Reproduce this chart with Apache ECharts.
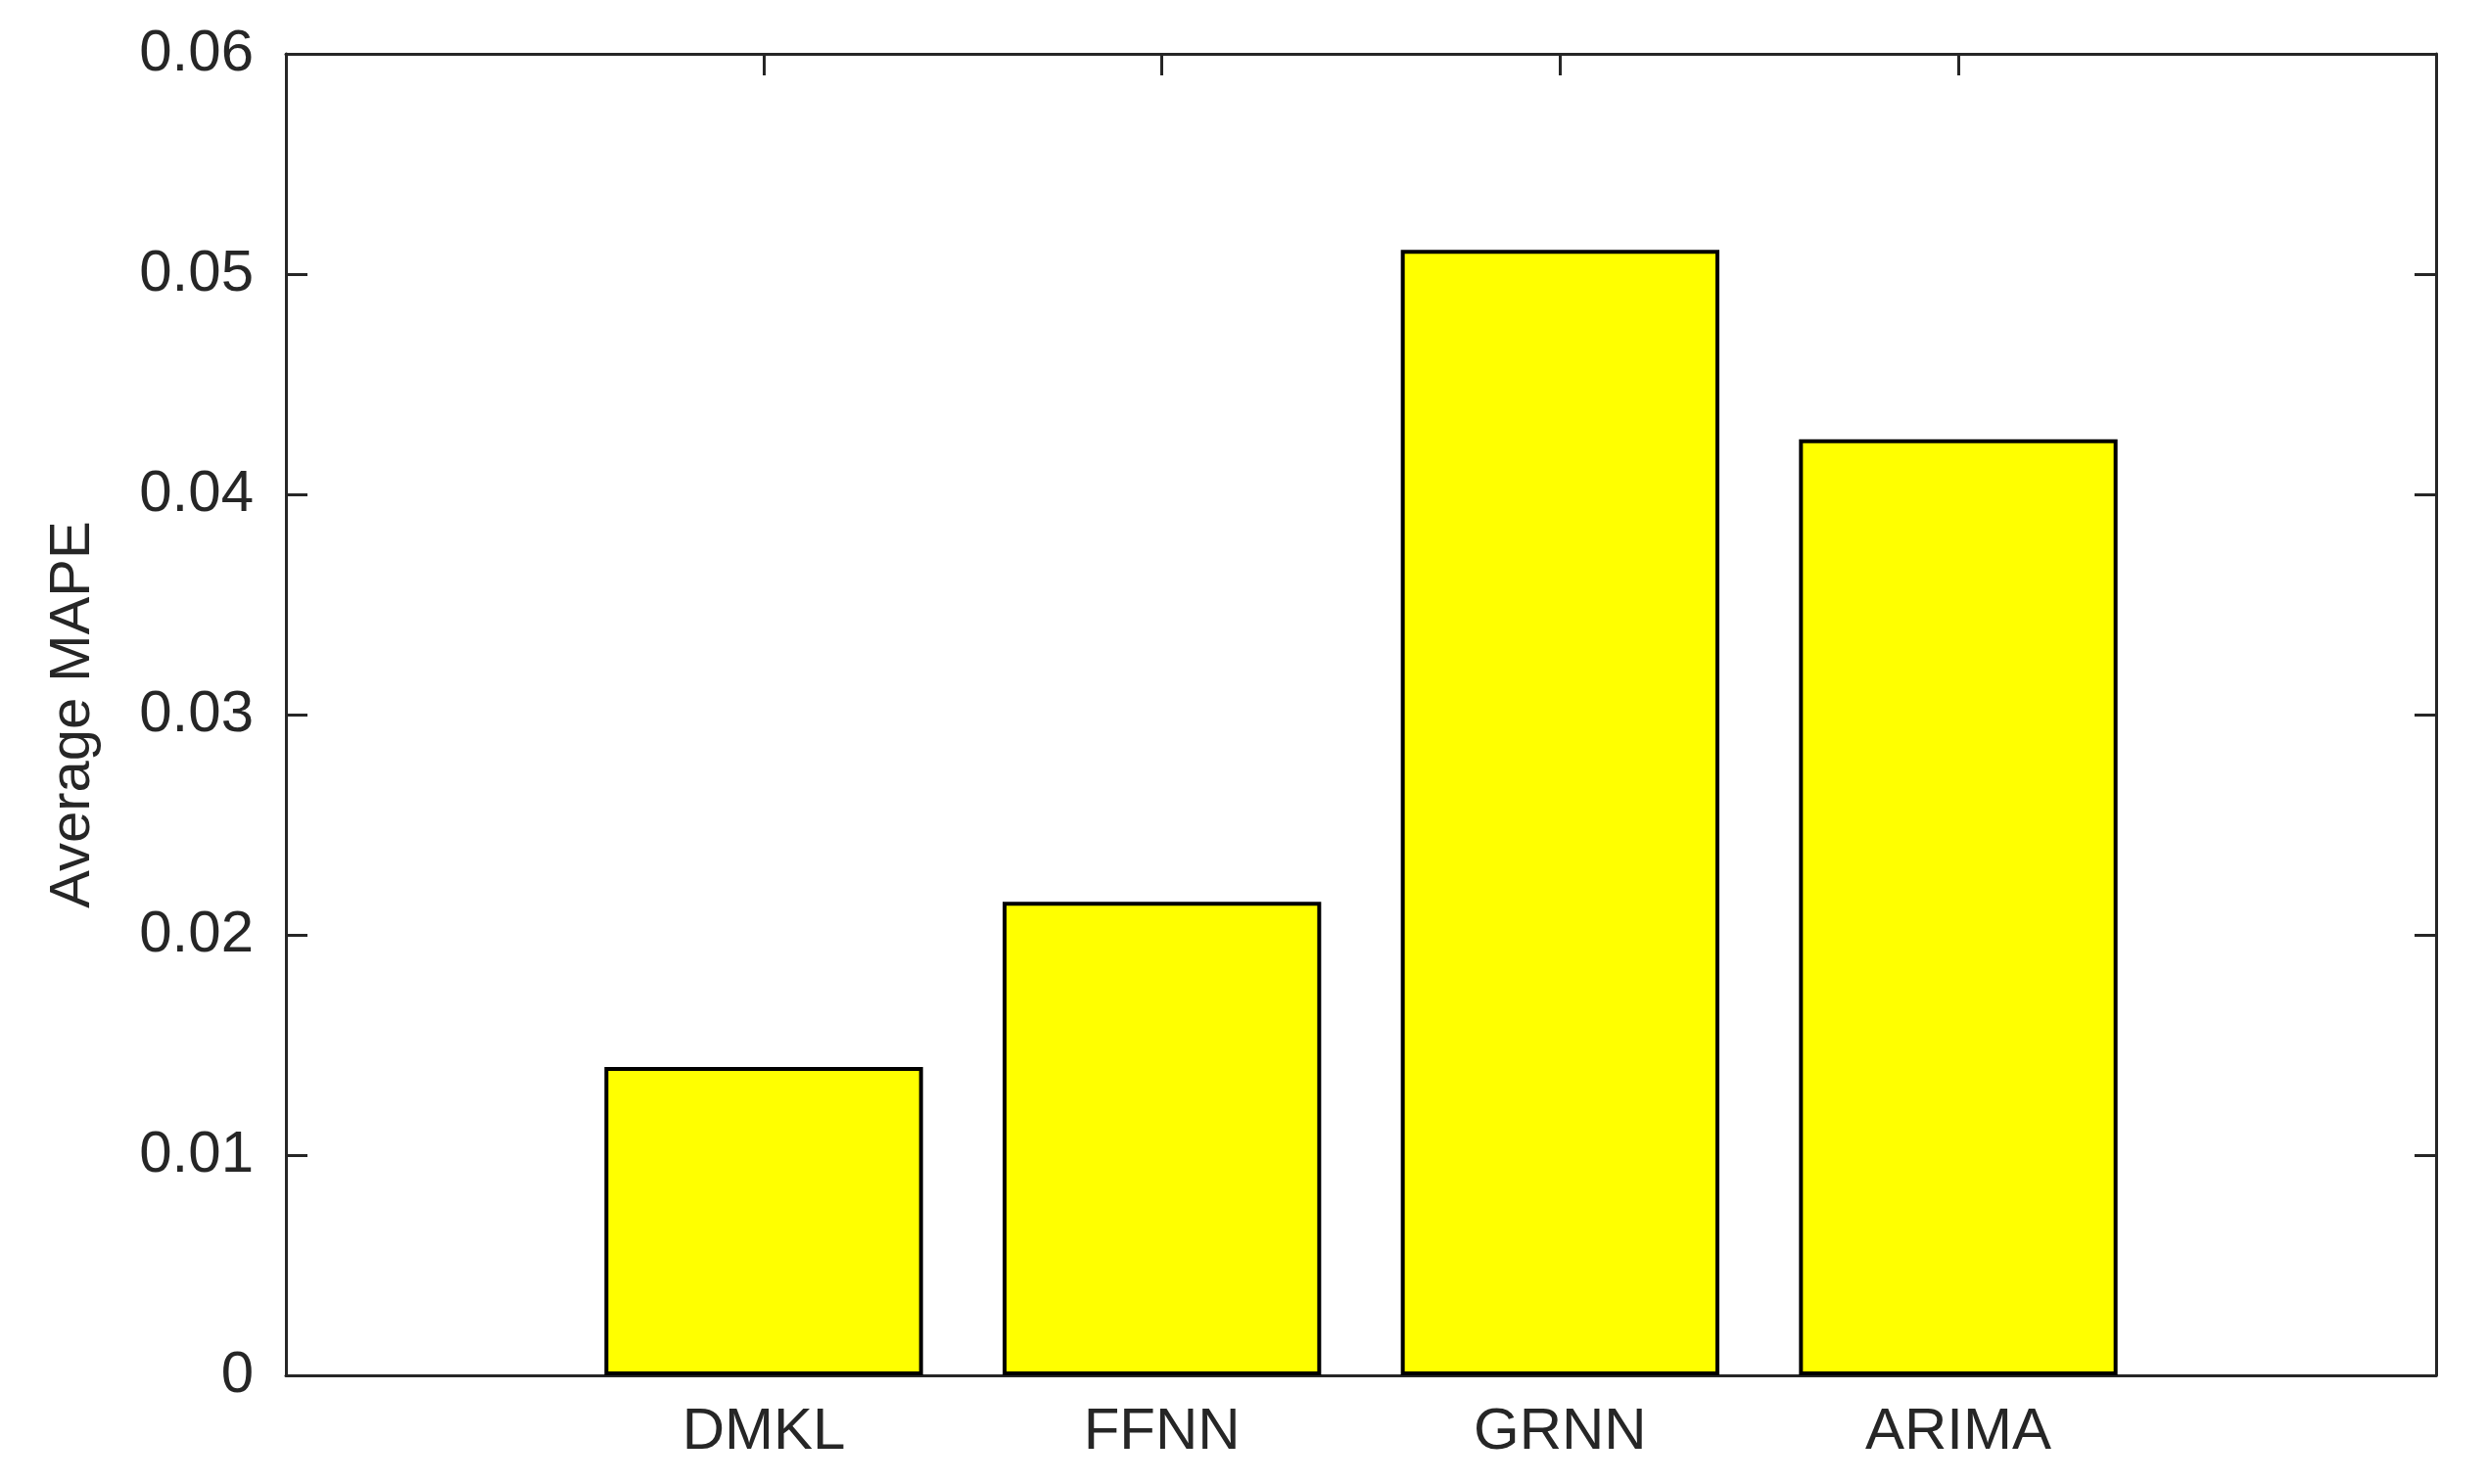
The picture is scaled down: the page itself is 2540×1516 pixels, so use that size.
<!DOCTYPE html>
<html lang="en">
<head>
    <meta charset="UTF-8">
    <title>Average MAPE</title>
    <script src="https://cdn.jsdelivr.net/npm/echarts@6/dist/echarts.min.js"></script>
</head>
<body style="height: 100%; margin: 0; background: #fff">
<div id="chart" style="width: 2540px; height: 1516px"></div>

<script>
    // values
    let methods = ['DMKL', 'FFNN', 'GRNN', 'ARIMA'];
    let positions = [1, 2, 3, 4];
    let mape = [0.0140, 0.0215, 0.0511, 0.0425];
    let yTicks = [0, 0.01, 0.02, 0.03, 0.04, 0.05, 0.06];

    let textColor = '#262626';
    let font = 'Liberation Sans, Arial, Helvetica, sans-serif';

    let barData = [];
    for (let i = 0; i < methods.length; i++) {
        barData.push([positions[i], mape[i]]);
    }

    let axisLine = {show: true, onZero: false, lineStyle: {color: textColor, width: 3}};
    let tickStyle = {show: true, inside: true, length: 22, lineStyle: {color: textColor, width: 3}};

    let myChart = echarts.init(document.getElementById('chart'));
    let option = {
        animation: false,
        backgroundColor: '#fff',
        grid: {left: 292, right: 52, top: 55, bottom: 111, containLabel: false},
        xAxis: [
            {
                type: 'value', position: 'bottom',
                min: -0.2, max: 5.2,
                axisLine: axisLine,
                axisTick: Object.assign({customValues: positions}, tickStyle),
                axisLabel: {
                    customValues: positions,
                    margin: 28,
                    color: textColor, fontSize: 60, fontFamily: font,
                    formatter: function (v) { return methods[positions.indexOf(v)] || ''; }
                },
                splitLine: {show: false}
            },
            {
                type: 'value', position: 'top',
                min: -0.2, max: 5.2,
                axisLine: axisLine,
                axisTick: Object.assign({customValues: positions}, tickStyle),
                axisLabel: {show: false},
                splitLine: {show: false}
            }
        ],
        yAxis: [
            {
                type: 'value', position: 'left',
                min: yTicks[0], max: yTicks[yTicks.length - 1], interval: 0.01,
                name: 'Average MAPE',
                nameLocation: 'middle',
                nameGap: 188,
                nameTextStyle: {color: textColor, fontSize: 58, fontFamily: font},
                axisLine: axisLine,
                axisTick: tickStyle,
                axisLabel: {
                    margin: 33, color: textColor, fontSize: 60, fontFamily: font,
                    formatter: function (v) { return String(+v.toFixed(2)); }
                },
                splitLine: {show: false}
            },
            {
                type: 'value', position: 'right',
                min: yTicks[0], max: yTicks[yTicks.length - 1], interval: 0.01,
                axisLine: axisLine,
                axisTick: tickStyle,
                axisLabel: {show: false},
                splitLine: {show: false}
            }
        ],
        series: [
            {
                type: 'bar',
                xAxisIndex: 0, yAxisIndex: 0,
                barWidth: '80%',
                data: barData,
                itemStyle: {color: '#ffff00', borderColor: '#000', borderWidth: 4},
                z: 1
            }
        ]
    };
    myChart.setOption(option);
</script>
</body>
</html>
